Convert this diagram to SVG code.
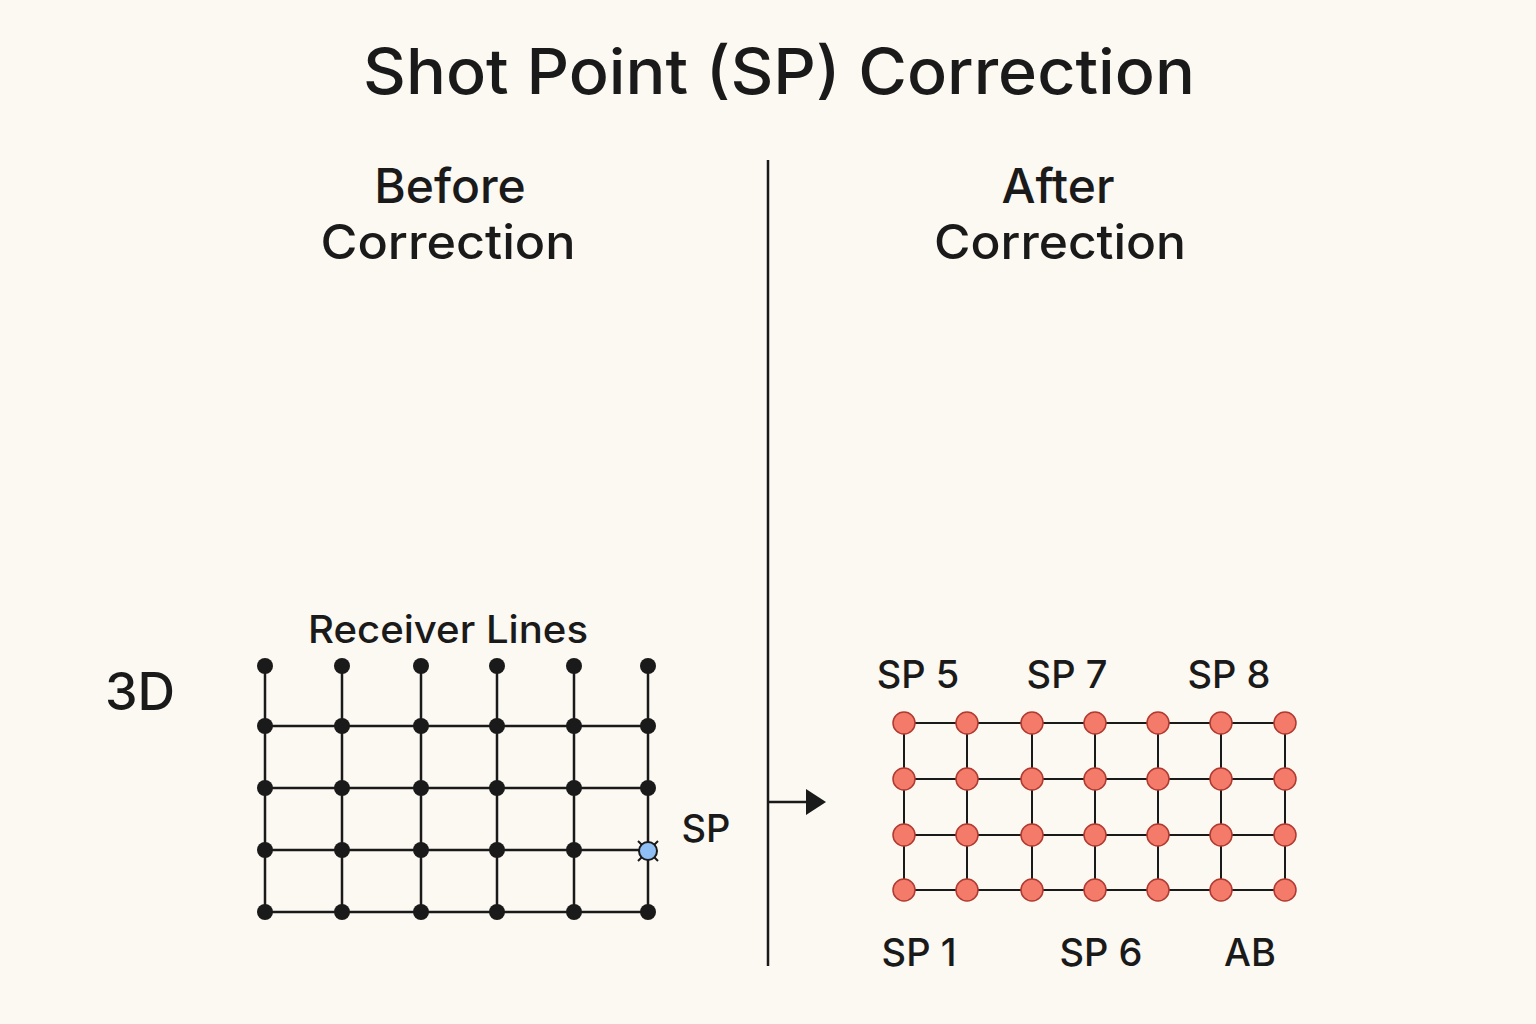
<svg xmlns="http://www.w3.org/2000/svg" width="1536" height="1024" viewBox="0 0 1536 1024">
<style>
text{font-family:Inter,"Noto Sans",sans-serif;fill:#1a1a1a;font-weight:500}
.ln{stroke:#1a1a1a;stroke-width:2.5;fill:none}
.d{fill:#1a1a1a}
.r{fill:#f47a6a;stroke:#b03a30;stroke-width:1.5}
</style>
<rect width="1536" height="1024" fill="#fcf8f2"/>
<text x="779" y="94" font-size="63" text-anchor="middle" textLength="832" lengthAdjust="spacingAndGlyphs">Shot Point (SP) Correction</text>
<text x="450" y="203" font-size="48" text-anchor="middle">Before</text>
<text x="448" y="259" font-size="48" text-anchor="middle" textLength="255" lengthAdjust="spacingAndGlyphs">Correction</text>
<text x="1058" y="203" font-size="48" text-anchor="middle">After</text>
<text x="1060" y="259" font-size="48" text-anchor="middle" textLength="252" lengthAdjust="spacingAndGlyphs">Correction</text>
<text x="140" y="710" font-size="52" text-anchor="middle">3D</text>
<text x="448" y="643" font-size="38" text-anchor="middle" textLength="280" lengthAdjust="spacingAndGlyphs">Receiver Lines</text>
<text x="706" y="842" font-size="38" text-anchor="middle">SP</text>
<g id="connectors">
<line class="ln" x1="768" y1="160" x2="768" y2="966"/>
<path class="ln" d="M768,802 H806"/>
<path d="M806,789 L826,802 L806,815 Z" fill="#1a1a1a"/>
</g>
<g id="before-grid">
<g class="ln">
<path d="M265,666V912M342,666V912M421,666V912M497,666V912M574,666V912M648,666V912"/>
<path d="M265,726H648M265,788H648M265,850H648M265,912H648"/>
</g>
<g class="d">
<circle cx="265" cy="666" r="8"/><circle cx="342" cy="666" r="8"/><circle cx="421" cy="666" r="8"/><circle cx="497" cy="666" r="8"/><circle cx="574" cy="666" r="8"/><circle cx="648" cy="666" r="8"/>
<circle cx="265" cy="726" r="8"/><circle cx="342" cy="726" r="8"/><circle cx="421" cy="726" r="8"/><circle cx="497" cy="726" r="8"/><circle cx="574" cy="726" r="8"/><circle cx="648" cy="726" r="8"/>
<circle cx="265" cy="788" r="8"/><circle cx="342" cy="788" r="8"/><circle cx="421" cy="788" r="8"/><circle cx="497" cy="788" r="8"/><circle cx="574" cy="788" r="8"/><circle cx="648" cy="788" r="8"/>
<circle cx="265" cy="850" r="8"/><circle cx="342" cy="850" r="8"/><circle cx="421" cy="850" r="8"/><circle cx="497" cy="850" r="8"/><circle cx="574" cy="850" r="8"/>
<circle cx="265" cy="912" r="8"/><circle cx="342" cy="912" r="8"/><circle cx="421" cy="912" r="8"/><circle cx="497" cy="912" r="8"/><circle cx="574" cy="912" r="8"/><circle cx="648" cy="912" r="8"/>
</g>
<g id="sp-point">
<path d="M638,841L658,861M658,841L638,861" stroke="#1a1a1a" stroke-width="2"/>
<circle cx="648" cy="851" r="9" fill="#8fbff5" stroke="#1a1a1a" stroke-width="2"/>
</g>
</g>
<g id="after-grid">
<g class="ln" style="stroke-width:2">
<path d="M904,723V890M967,723V890M1032,723V890M1095,723V890M1158,723V890M1221,723V890M1285,723V890"/>
<path d="M904,723H1285M904,779H1285M904,835H1285M904,890H1285"/>
</g>
<g class="r">
<circle cx="904" cy="723" r="11"/><circle cx="967" cy="723" r="11"/><circle cx="1032" cy="723" r="11"/><circle cx="1095" cy="723" r="11"/><circle cx="1158" cy="723" r="11"/><circle cx="1221" cy="723" r="11"/><circle cx="1285" cy="723" r="11"/>
<circle cx="904" cy="779" r="11"/><circle cx="967" cy="779" r="11"/><circle cx="1032" cy="779" r="11"/><circle cx="1095" cy="779" r="11"/><circle cx="1158" cy="779" r="11"/><circle cx="1221" cy="779" r="11"/><circle cx="1285" cy="779" r="11"/>
<circle cx="904" cy="835" r="11"/><circle cx="967" cy="835" r="11"/><circle cx="1032" cy="835" r="11"/><circle cx="1095" cy="835" r="11"/><circle cx="1158" cy="835" r="11"/><circle cx="1221" cy="835" r="11"/><circle cx="1285" cy="835" r="11"/>
<circle cx="904" cy="890" r="11"/><circle cx="967" cy="890" r="11"/><circle cx="1032" cy="890" r="11"/><circle cx="1095" cy="890" r="11"/><circle cx="1158" cy="890" r="11"/><circle cx="1221" cy="890" r="11"/><circle cx="1285" cy="890" r="11"/>
</g>
<text x="918" y="688" font-size="38" text-anchor="middle">SP 5</text>
<text x="1067" y="688" font-size="38" text-anchor="middle">SP 7</text>
<text x="1229" y="688" font-size="38" text-anchor="middle">SP 8</text>
<text x="919" y="966" font-size="38" text-anchor="middle">SP 1</text>
<text x="1101" y="966" font-size="38" text-anchor="middle">SP 6</text>
<text x="1250" y="966" font-size="38" text-anchor="middle">AB</text>
</g>
</svg>
